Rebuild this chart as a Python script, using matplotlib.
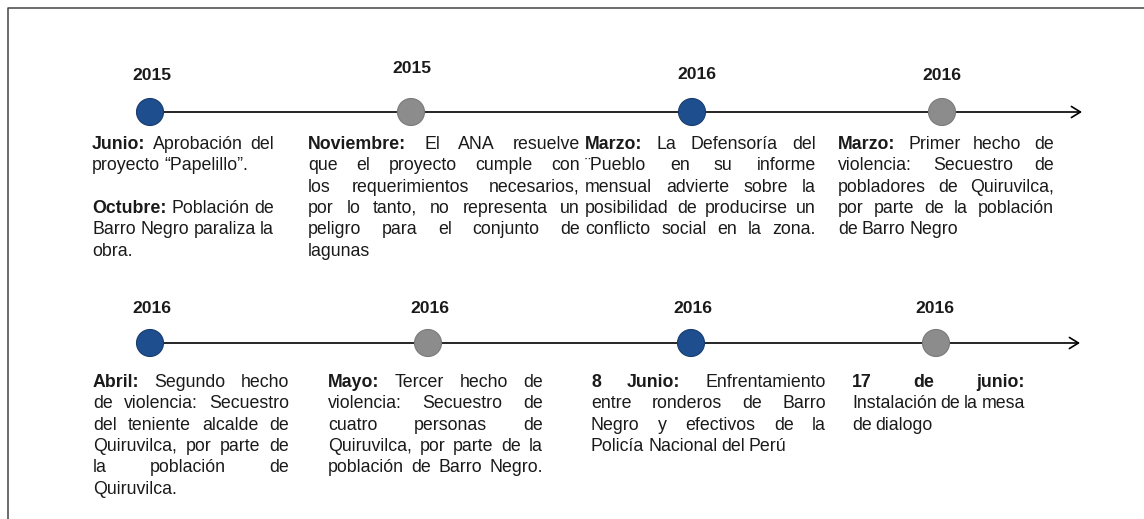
import matplotlib
matplotlib.use("Agg")
import matplotlib.pyplot as plt
from matplotlib.patches import Circle

# ---------------- data ----------------
row1_years = ["2015", "2015", "2016", "2016"]
row1_kinds = ["blue", "gray", "blue", "gray"]
row1_texts = [
    ["**Junio:** Aprobación del", "proyecto “Papelillo”.", "",
     "**Octubre:** Población de", "Barro Negro paraliza la", "obra."],
    ["**Noviembre:** El ANA resuelve", "que el proyecto cumple con",
     "los requerimientos necesarios,", "por lo tanto, no representa un",
     "peligro para el conjunto de", "lagunas"],
    ["**Marzo:** La Defensoría del", "¨Pueblo en su informe",
     "mensual advierte sobre la", "posibilidad de producirse un",
     "conflicto social en la zona."],
    ["**Marzo:** Primer hecho de", "violencia: Secuestro de",
     "pobladores de Quiruvilca,", "por parte de la población",
     "de Barro Negro"],
]

row2_years = ["2016", "2016", "2016", "2016"]
row2_kinds = ["blue", "gray", "blue", "gray"]
row2_texts = [
    ["**Abril:** Segundo hecho", "de violencia: Secuestro",
     "del teniente alcalde de", "Quiruvilca, por parte de",
     "la población de", "Quiruvilca."],
    ["**Mayo:** Tercer hecho de", "violencia: Secuestro de",
     "cuatro personas de", "Quiruvilca, por parte de la",
     "población de Barro Negro."],
    ["**8 Junio:** Enfrentamiento", "entre ronderos de Barro",
     "Negro y efectivos de la", "Policía Nacional del Perú"],
    ["**17 de junio:**", "Instalación de la mesa", "de dialogo"],
]

# ---------------- layout ----------------
W, H = 1144, 519
FONT = "Liberation Sans"
FS = 12.8
FS_YEAR = 12.6
LINE_H = 21.3
COLORS = {"blue": ("#1f4e8e", "#173d70"), "gray": ("#8c8c8c", "#7a7a7a")}

rows = [
    dict(years=row1_years, kinds=row1_kinds, texts=row1_texts,
         line_y=112, arrow_end=1082,
         circle_x=[150, 411, 692, 942],
         year_x=[152, 412, 697, 942], year_base=[80, 73, 79, 80],
         blocks=[(92, 274, False), (308, 580, False), (585, 816, True), (838, 1054, False)],
         base=149),
    dict(years=row2_years, kinds=row2_kinds, texts=row2_texts,
         line_y=343, arrow_end=1080,
         circle_x=[150, 428, 691, 936],
         year_x=[152, 430, 693, 935], year_base=[313, 313, 313, 313],
         blocks=[(93, 289, False), (328, 543, True), (591, 826, False), (852, 1025, False)],
         base=387),
]

fig = plt.figure(figsize=(W / 100, H / 100), dpi=100)
ax = fig.add_axes([0, 0, 1, 1])
ax.set_xlim(0, W)
ax.set_ylim(H, 0)
ax.axis("off")
renderer = fig.canvas.get_renderer()

# frame (top and left)
ax.plot([7.5, 7.5, W], [H, 7.5, 7.5], color="#444444", lw=1.1, solid_capstyle="butt")

SPACE = 0.22 * FS * 100 / 72


def parse(line):
    words = []
    bold = False
    for w in line.split():
        b = bold
        if w.startswith("**"):
            w = w[2:]
            b = True
            bold = True
        if w.endswith("**"):
            w = w[:-2]
            bold = False
        words.append((w, b))
    return words


def draw_block(lines, left, right, base, justify_last):
    n = len(lines)
    for i, line in enumerate(lines):
        if not line:
            continue
        y = base + i * LINE_H
        words = parse(line)
        is_last = (i == n - 1) or (lines[i + 1] == "")
        objs = []
        widths = []
        for w, b in words:
            t = ax.text(0, y, w, ha="left", va="baseline", fontsize=FS,
                        family=FONT, fontweight="bold" if b else "normal",
                        color="#1a1a1a")
            objs.append(t)
            widths.append(t.get_window_extent(renderer=renderer).width)
        if (not is_last or justify_last) and len(words) > 1:
            gap = (right - left - sum(widths)) / (len(words) - 1)
            gap = max(gap, 2.5)
        else:
            gap = SPACE
        x = left
        for t, wd in zip(objs, widths):
            t.set_x(x)
            x += wd + gap


for r in rows:
    ly = r["line_y"]
    ax.annotate("", xy=(r["arrow_end"], ly), xytext=(r["circle_x"][0], ly),
                arrowprops=dict(arrowstyle="->,head_length=0.65,head_width=0.4",
                                lw=1.2, color="black", mutation_scale=10,
                                shrinkA=0, shrinkB=0))
    for cx, kind in zip(r["circle_x"], r["kinds"]):
        fc, ec = COLORS[kind]
        ax.add_patch(Circle((cx, ly), 13.5, facecolor=fc, edgecolor=ec,
                            lw=0.8, zorder=3))
    for yx, yb, yr in zip(r["year_x"], r["year_base"], r["years"]):
        ax.text(yx, yb, yr, ha="center", va="baseline", fontsize=FS_YEAR,
                family=FONT, fontweight="bold", color="#1a1a1a")
    for (left, right, jl), lines in zip(r["blocks"], r["texts"]):
        draw_block(lines, left, right, r["base"], jl)

fig.savefig("out.png", dpi=100)
